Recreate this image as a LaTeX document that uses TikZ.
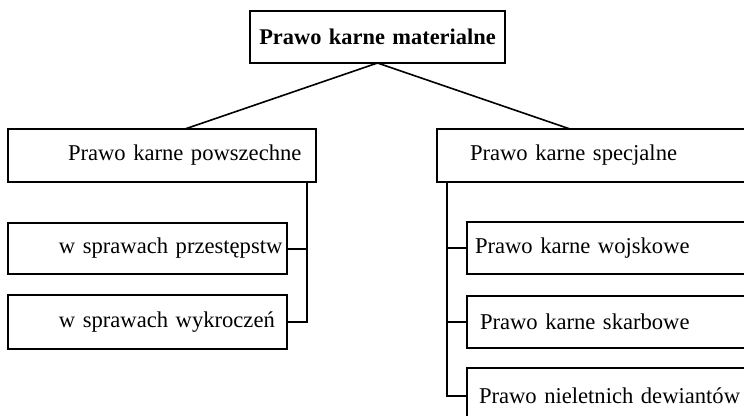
\documentclass[tikz,border=0pt]{standalone}
\usepackage{fontspec}
\setmainfont{Liberation Serif}
\begin{document}
\begin{tikzpicture}[x=1pt,y=-1pt,
  box/.style={draw, line width=1.2pt, anchor=north west, inner sep=0pt, outer sep=0pt,
    align=left, font=\fontsize{22.6}{27}\selectfont},
  conn/.style={line width=2pt},
  diag/.style={line width=1.6pt}]
\useasboundingbox (0,0) rectangle (744,415);
\clip (0,0) rectangle (744,415);
\node[box, text width=255pt, minimum height=52pt, align=center, font=\fontsize{22.4}{27}\selectfont\bfseries] (top) at (250,11) {Prawo karne materialne};
\node[box, text width=308pt, minimum height=53pt] (pow) at (8,129) {\hspace*{60pt}Prawo karne powszechne};
\node[box, text width=279pt, minimum height=51pt] (prz) at (8,223) {\hspace*{51pt}w sprawach przestępstw};
\node[box, text width=279pt, minimum height=54pt] (wyk) at (8,295) {\hspace*{51pt}w sprawach wykroczeń};
\node[box, text width=330pt, minimum height=53pt] (spec) at (437,129) {\hspace*{33pt}Prawo karne specjalne};
\node[box, text width=300pt, minimum height=52pt] (woj) at (467,222) {\hspace*{8pt}Prawo karne wojskowe};
\node[box, text width=300pt, minimum height=52pt] (skar) at (467,296) {\hspace*{13pt}Prawo karne skarbowe};
\node[box, text width=300pt, minimum height=56pt] (niel) at (467,368) {\hspace*{12pt}Prawo nieletnich dewiantów};
\coordinate (lj) at (185,129);
\coordinate (rj) at (570,129);
\coordinate (lbus) at (307,182);
\coordinate (rbus) at (447,182);
\draw[diag] (top.south) -- (lj);
\draw[diag] (top.south) -- (rj);
\draw[conn] (lbus) |- (wyk.east);
\draw[conn] (prz.east) -- (prz.east -| lbus);
\draw[conn] (rbus) |- (niel.west);
\draw[conn] (woj.west) -- (woj.west -| rbus);
\draw[conn] (skar.west) -- (skar.west -| rbus);
\end{tikzpicture}
\end{document}
